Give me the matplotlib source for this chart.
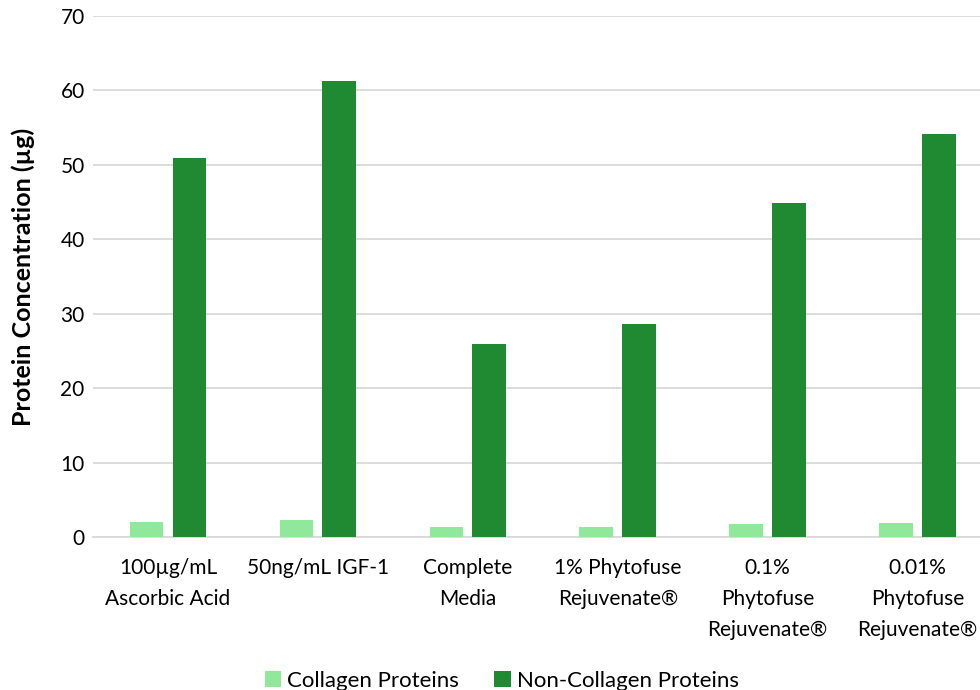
import matplotlib.pyplot as plt
import numpy as np

categories = ['100µg/mL\nAscorbic Acid', '50ng/mL IGF-1', 'Complete\nMedia',
              '1% Phytofuse\nRejuvenate®', '0.1%\nPhytofuse\nRejuvenate®',
              '0.01%\nPhytofuse\nRejuvenate®']
collagen = [2.0, 2.3, 1.3, 1.3, 1.8, 1.9]
non_collagen = [50.9, 61.3, 26.0, 28.6, 44.9, 54.1]

plt.rcParams['font.family'] = ['Lato', 'DejaVu Sans']

fig = plt.figure(figsize=(9.8, 6.9), dpi=100)
ax = fig.add_axes([0.0949, 0.2217, 0.918, 0.7551])

x = np.arange(len(categories))
w = 0.225
ax.bar(x - 0.143, collagen, w, color='#90E89B', label='Collagen Proteins', zorder=3)
ax.bar(x + 0.143, non_collagen, w, color='#1F8A31', label='Non-Collagen Proteins', zorder=3)

ax.set_xlim(-0.5, len(categories) - 0.5)
ax.set_ylim(0, 70)
ax.set_yticks(range(0, 71, 10))
ax.grid(axis='y', color='#D9D9D9', linewidth=1.3, zorder=0)
for s in ['top', 'right', 'left']:
    ax.spines[s].set_visible(False)
ax.spines['bottom'].set_color('#D9D9D9')
ax.spines['bottom'].set_linewidth(1.3)
ax.tick_params(length=0, labelsize=15, colors='#000000')
ax.tick_params(axis='y', pad=6)
ax.tick_params(axis='x', pad=15)
ax.set_xticks(x)
ax.set_xticklabels(categories, linespacing=1.7)

ax.set_ylabel('Protein Concentration (µg)', fontsize=18, fontweight='bold', labelpad=18)

fig.legend(loc='lower center', bbox_to_anchor=(0.512, -0.03), ncol=2, frameon=False,
           fontsize=16, handlelength=0.75, handleheight=0.75, handletextpad=0.25,
           columnspacing=1.6)

fig.savefig('out.png', dpi=100)
